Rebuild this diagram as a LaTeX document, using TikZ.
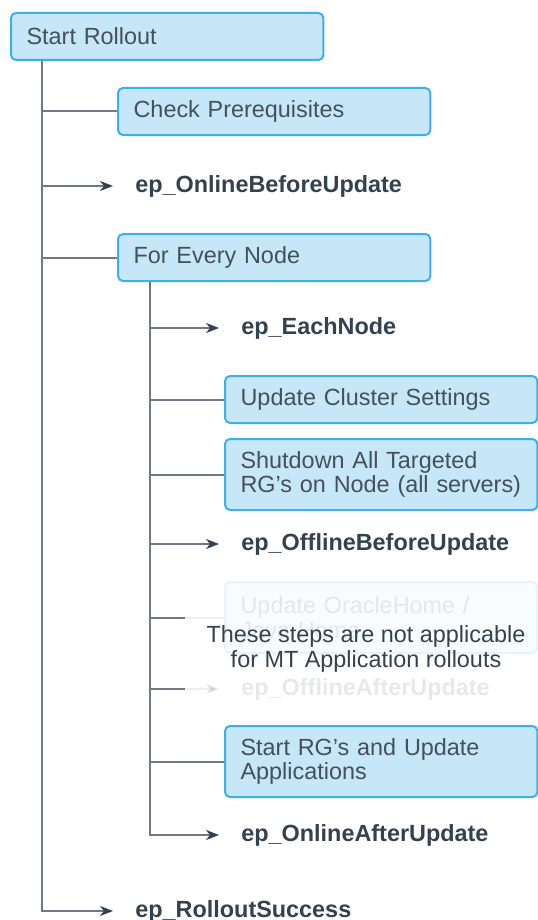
\documentclass[tikz,border=0pt]{standalone}
\usepackage{fontspec}
\setmainfont{Liberation Sans}
\usetikzlibrary{arrows.meta, positioning}
\definecolor{boxfill}{HTML}{C6E7F7}
\definecolor{boxline}{HTML}{3DB0E8}
\definecolor{linkgray}{HTML}{6E7A86}
\definecolor{txtdark}{HTML}{34414E}
\definecolor{txtbox}{HTML}{45505B}

\begin{document}
\begin{tikzpicture}[x=0.5pt, y=-0.5pt,
    stepbox/.style={rectangle, draw=boxline, fill=boxfill, line width=1pt, rounded corners=2.5pt,
        anchor=north west, minimum height=23.5pt, inner xsep=7.8pt,
        text width=140.6pt, align=left, text=txtbox, font=\fontsize{11.7}{12.4}\selectfont},
    hook/.style={anchor=west, inner sep=0pt, text=txtdark, font=\fontsize{11.7}{12.4}\selectfont\bfseries},
    link/.style={draw=linkgray, line width=1pt},
    hooklink/.style={link, -{Stealth[length=6.5pt, width=5pt, inset=2pt, color=txtdark]}, shorten >=11pt},
    faded/.style={opacity=0.12}
]
\useasboundingbox (0,0) rectangle (537,920);

% top level
\node[stepbox] at (10,12) (start) {Start Rollout};
\coordinate (trunk) at ([xshift=16pt]start.south west);

\node[stepbox] at (117,87) (check) {Check Prerequisites};
\node[hook] at (135,186) (onlinebefore) {ep\_OnlineBeforeUpdate};
\node[stepbox] at (117,233) (every) {For Every Node};
\coordinate (inner) at ([xshift=16.5pt]every.south west);

% per node steps
\node[hook] at (241,328) (eachnode) {ep\_EachNode};
\node[stepbox] at (224,375) (cluster) {Update Cluster Settings};
\node[stepbox, minimum height=35.5pt] at (224,438) (shutdown) {Shutdown All Targeted\\RG's on Node (all servers)};
\node[hook] at (241,544) (offlinebefore) {ep\_OfflineBeforeUpdate};
\node[stepbox, faded, minimum height=35.5pt] at (224,581) (oracle) {Update OracleHome /\\Java Home};
\node[hook, faded] at (241,689) (offlineafter) {ep\_OfflineAfterUpdate};
\node[stepbox, minimum height=35.5pt] at (224,725) (startrg) {Start RG's and Update\\Applications};
\node[hook] at (241,835) (onlineafter) {ep\_OnlineAfterUpdate};

\node[align=center, text=txtdark, font=\fontsize{11.7}{12.4}\selectfont] at (366,649) (note) {These steps are not applicable\\for MT Application rollouts};

\node[hook] at (135,911) (success) {ep\_RolloutSuccess};

% connectors
\draw[link] (trunk) |- (check.west);
\draw[hooklink] (trunk) |- (onlinebefore.west);
\draw[link] (trunk) |- (every.west);
\draw[hooklink] (trunk) |- (success.west);

\draw[hooklink] (inner) |- (eachnode.west);
\draw[link] (inner) |- (cluster.west);
\draw[link] (inner) |- (shutdown.west);
\draw[hooklink] (inner) |- (offlinebefore.west);
\draw[link] (inner) |- (oracle.west -| inner) -- ++(35,0) coordinate (stubA);
\draw[link, faded] (stubA) -- (oracle.west);
\draw[link] (inner) |- (offlineafter.west -| inner) -- ++(35,0) coordinate (stubB);
\draw[hooklink, faded] (stubB) -- (offlineafter.west);
\draw[link] (inner) |- (startrg.west);
\draw[hooklink] (inner) |- (onlineafter.west);
\end{tikzpicture}
\end{document}
